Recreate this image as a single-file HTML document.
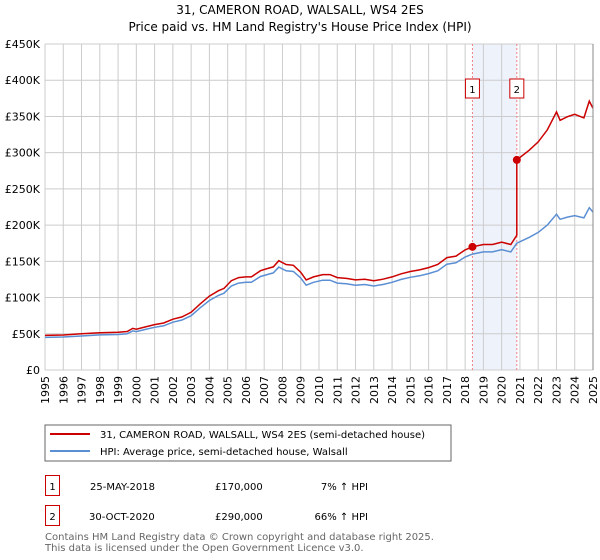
<!DOCTYPE html>
<html><head><meta charset="utf-8"><style>
body{margin:0;background:#fff;font-family:"DejaVu Sans","Liberation Sans",sans-serif;}
svg{display:block}
text{font-family:"DejaVu Sans","Liberation Sans",sans-serif;}
</style></head><body>
<svg id="c" width="600" height="560">
<text x="300" y="14" text-anchor="middle" font-size="12" fill="#000">31, CAMERON ROAD, WALSALL, WS4 2ES</text>
<text x="300" y="31" text-anchor="middle" font-size="12" fill="#000">Price paid vs. HM Land Registry's House Price Index (HPI)</text>
<g id="plot"></g>
<rect x="45" y="425" width="406" height="36" fill="#fff" stroke="#666"/>
<line x1="50" y1="434" x2="90" y2="434" stroke="#cc0000" stroke-width="2"/>
<text x="100" y="438" font-size="10">31, CAMERON ROAD, WALSALL, WS4 2ES (semi-detached house)</text>
<line x1="50" y1="451" x2="90" y2="451" stroke="#5b8fd4" stroke-width="2"/>
<text x="100" y="455" font-size="10">HPI: Average price, semi-detached house, Walsall</text>
<g>
<rect x="45.5" y="475.5" width="14" height="20" fill="none" stroke="#cc0000"/>
<text x="52.5" y="490" font-size="10" text-anchor="middle">1</text>
<text x="90" y="490" font-size="10">25-MAY-2018</text>
<text x="215" y="490" font-size="10">£170,000</text>
<text x="368" y="490" font-size="10" text-anchor="end">7% ↑ HPI</text>
</g>
<g>
<rect x="45.5" y="505.5" width="14" height="20" fill="none" stroke="#cc0000"/>
<text x="52.5" y="520" font-size="10" text-anchor="middle">2</text>
<text x="89" y="520" font-size="10">30-OCT-2020</text>
<text x="215" y="520" font-size="10">£290,000</text>
<text x="368" y="520" font-size="10" text-anchor="end">66% ↑ HPI</text>
</g>
<text x="45" y="540" font-size="10" fill="#666">Contains HM Land Registry data © Crown copyright and database right 2025.</text>
<text x="45" y="551" font-size="10" fill="#666">This data is licensed under the Open Government Licence v3.0.</text>
</svg>
<script>
const hpiDates=[1995,1996,1997,1998,1999,1999.5,1999.8,2000,2000.5,2001,2001.5,2002,2002.5,2003,2003.5,2004,2004.5,2004.8,2005.2,2005.6,2006,2006.3,2006.8,2007.2,2007.5,2007.8,2008.2,2008.6,2009,2009.3,2009.7,2010.2,2010.6,2011,2011.5,2012,2012.5,2013,2013.5,2014,2014.5,2015,2015.5,2016,2016.5,2017,2017.5,2018,2018.4,2019,2019.5,2020,2020.5,2020.83,2021.5,2022,2022.5,2023,2023.2,2023.6,2024,2024.5,2024.8,2025];
const hpiValues=[45,45.5,47,48.5,49,50,54,53,56,59,61,66,69,75,86,96,103,106,116,120,121,121,129,132,134,142,137,136,127,117,121,124,124,120,119,117,118,116,118,121,125,128,130,133,137,146,148,156,160,163,163,166,163,175,183,190,200,215,208,211,213,210,224,218];
const saleDates=[2018.4,2020.83];
const salePrices=[170,290];
const yTicks=[0,50,100,150,200,250,300,350,400,450];
const yTickLabels=["£0","£50K","£100K","£150K","£200K","£250K","£300K","£350K","£400K","£450K"];
const xYears=[1995,1996,1997,1998,1999,2000,2001,2002,2003,2004,2005,2006,2007,2008,2009,2010,2011,2012,2013,2014,2015,2016,2017,2018,2019,2020,2021,2022,2023,2024,2025];

const X0=45,X1=593,Y0=370,Y1=44;
const xs=y=>X0+(y-1995)/30*(X1-X0);
const ys=v=>Y0-v/450*(Y0-Y1);
const NS="http://www.w3.org/2000/svg";
const g=document.getElementById('plot');
function mk(t,a){const e=document.createElementNS(NS,t);for(const k in a)e.setAttribute(k,a[k]);g.appendChild(e);return e;}
function hpiAt(d){for(let i=0;i<hpiDates.length-1;i++){if(d<=hpiDates[i+1]){const t=(d-hpiDates[i])/(hpiDates[i+1]-hpiDates[i]);return hpiValues[i]+t*(hpiValues[i+1]-hpiValues[i]);}}return hpiValues[hpiValues.length-1];}

const shade=mk('rect',{x:xs(saleDates[0]),y:Y1,width:xs(saleDates[1])-xs(saleDates[0]),height:Y0-Y1,fill:'#eef2fb'});


xYears.forEach(y=>{const l=mk('line',{x1:xs(y),y1:Y1,x2:xs(y),y2:Y0,stroke:'#ccc','stroke-width':1});

});
yTicks.forEach((v,i)=>{const l=mk('line',{x1:X0,y1:ys(v),x2:X1,y2:ys(v),stroke:'#ccc','stroke-width':1});


const t=mk('text',{x:40,y:ys(v)+4,'text-anchor':'end','font-size':11,fill:'#000'});t.textContent=yTickLabels[i];

});
xYears.forEach(y=>{const t=mk('text',{transform:`translate(${xs(y)+4},376) rotate(-90)`,'text-anchor':'end','font-size':11,fill:'#000'});t.textContent=y;

});
saleDates.forEach((d,i)=>{const l=mk('line',{x1:xs(d),y1:Y1,x2:xs(d),y2:Y0,stroke:'#f08080','stroke-dasharray':'2,2','stroke-width':1});


const r=mk('rect',{x:xs(d)-7,y:79,width:14,height:19,fill:'#fff',stroke:'#cc0000'});


const t=mk('text',{x:xs(d),y:93,'text-anchor':'middle','font-size':10});t.textContent=String(i+1);

});
const hp=mk('path',{d:hpiDates.map((d,i)=>(i?'L':'M')+xs(d).toFixed(1)+','+ys(hpiValues[i]).toFixed(1)).join(''),fill:'none',stroke:'#5b8fd4','stroke-width':1.5});


let pts=[];
const r0=salePrices[0]/hpiAt(saleDates[0]),r1=salePrices[1]/hpiAt(saleDates[1]);
hpiDates.forEach((d,i)=>{if(d<saleDates[1])pts.push([d,hpiValues[i]*r0]);});
pts.push([saleDates[1],hpiAt(saleDates[1])*r0]);
pts.push([saleDates[1],salePrices[1]]);
hpiDates.forEach((d,i)=>{if(d>saleDates[1])pts.push([d,hpiValues[i]*r1]);});
const pp=mk('path',{d:pts.map((p,i)=>(i?'L':'M')+xs(p[0]).toFixed(1)+','+ys(p[1]).toFixed(1)).join(''),fill:'none',stroke:'#cc0000','stroke-width':1.5});


saleDates.forEach((d,i)=>{const c=mk('circle',{cx:xs(d),cy:ys(salePrices[i]),r:4,fill:'#cc0000'});

});
const ax=mk('line',{x1:X1,y1:Y1,x2:X1,y2:Y0,stroke:'#888'});


</script>
</body></html>
